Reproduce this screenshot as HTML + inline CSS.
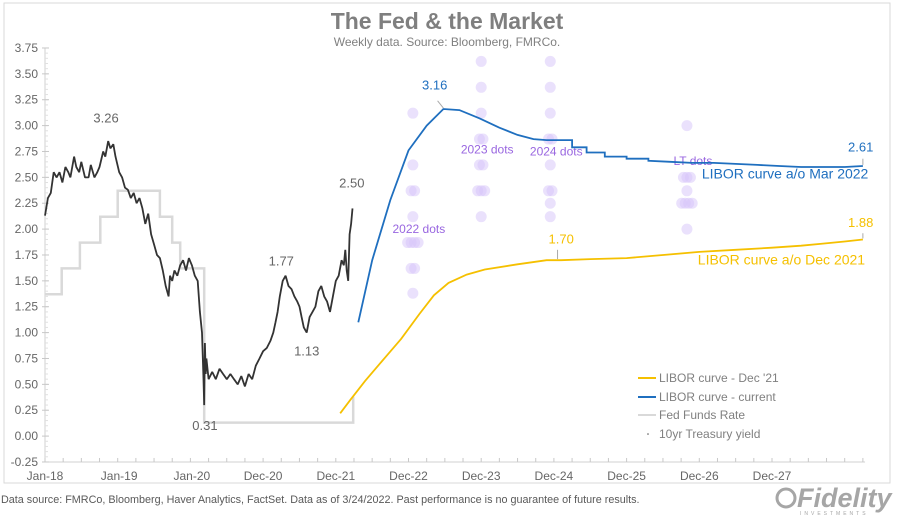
<!DOCTYPE html>
<html><head><meta charset="utf-8">
<style>
body{margin:0;background:#fff;width:900px;height:517px;overflow:hidden;font-family:"Liberation Sans",Arial,sans-serif;}
svg text{font-family:"Liberation Sans",Arial,sans-serif;}
</style></head>
<body>
<svg id="chart" width="900" height="517" viewBox="0 0 900 517" xmlns="http://www.w3.org/2000/svg">
<rect x="4" y="3" width="886" height="480" fill="none" stroke="#d9d9d9" stroke-width="1"/>
<text x="447" y="29" text-anchor="middle" font-size="23" font-weight="bold" fill="#7f7f7f">The Fed &amp; the Market</text>
<text x="447" y="46" text-anchor="middle" font-size="12" fill="#808080">Weekly data.  Source: Bloomberg, FMRCo.</text>
<g id="axes"></g>
<g id="series"></g>
<g id="annots"></g>
<g>
 <line x1="638" y1="378" x2="656" y2="378" stroke="#f5c000" stroke-width="2"/>
 <text x="659" y="382" font-size="12" fill="#808080">LIBOR curve - Dec '21</text>
 <line x1="638" y1="397" x2="656" y2="397" stroke="#1f6fbf" stroke-width="2"/>
 <text x="659" y="401" font-size="12" fill="#808080">LIBOR curve - current</text>
 <line x1="638" y1="415" x2="656" y2="415" stroke="#d9d9d9" stroke-width="2"/>
 <text x="659" y="419" font-size="12" fill="#808080">Fed Funds Rate</text>
 <circle cx="648" cy="434" r="0.8" fill="#555"/>
 <text x="659" y="438" font-size="12" fill="#808080">10yr Treasury yield</text>
</g>
<text x="1" y="503" font-size="10.8" fill="#595959">Data source: FMRCo, Bloomberg, Haver Analytics, FactSet. Data as of 3/24/2022. Past performance is no guarantee of future results.</text>
<g>
 <circle cx="786" cy="498" r="9" fill="none" stroke="#a6a6a6" stroke-width="3"/>
 <text x="797" y="507" font-size="27" font-weight="bold" font-style="italic" fill="#a6a6a6">Fidelity</text>
 <text x="800" y="515" font-size="5" fill="#a6a6a6" letter-spacing="3">INVESTMENTS</text>
</g>
</svg>
<script>
// ---- data ----
const yTicks = [-0.25,0,0.25,0.5,0.75,1,1.25,1.5,1.75,2,2.25,2.5,2.75,3,3.25,3.5,3.75];
const xTickLabels = ["Jan-18","Jan-19","Jan-20","Dec-20","Dec-21","Dec-22","Dec-23","Dec-24","Dec-25","Dec-26","Dec-27"];
const xTickYears = [0,1.02,2.02,3.0,4.0,5.0,6.0,7.0,8.0,9.0,10.0];
const tsyT = [0,0.04,0.08,0.12,0.16,0.2,0.24,0.28,0.32,0.35,0.4,0.43,0.47,0.5,0.55,0.6,0.63,0.68,0.72,0.75,0.8,0.83,0.87,0.9,0.94,0.97,1.02,1.06,1.1,1.14,1.18,1.22,1.26,1.3,1.34,1.38,1.42,1.46,1.5,1.54,1.58,1.62,1.66,1.7,1.72,1.75,1.78,1.82,1.86,1.9,1.94,1.98,2.02,2.06,2.1,2.13,2.16,2.18,2.19,2.2,2.21,2.22,2.25,2.3,2.35,2.4,2.45,2.5,2.55,2.6,2.65,2.7,2.75,2.8,2.85,2.9,2.95,3.0,3.05,3.1,3.14,3.17,3.2,3.23,3.27,3.31,3.35,3.39,3.43,3.47,3.5,3.53,3.56,3.6,3.64,3.68,3.72,3.76,3.8,3.84,3.88,3.92,3.96,4.0,4.04,4.08,4.11,4.13,4.15,4.17,4.19,4.21,4.23];
const tsyV = [2.13,2.3,2.35,2.55,2.5,2.55,2.45,2.6,2.55,2.5,2.7,2.6,2.55,2.65,2.5,2.5,2.62,2.5,2.55,2.6,2.75,2.7,2.85,2.78,2.82,2.7,2.55,2.5,2.4,2.38,2.3,2.35,2.25,2.3,2.2,2.05,2.15,1.95,1.85,1.75,1.72,1.6,1.45,1.35,1.55,1.5,1.6,1.55,1.65,1.7,1.6,1.72,1.65,1.55,1.5,1.2,1.0,0.55,0.3,0.9,0.6,0.75,0.55,0.62,0.55,0.65,0.6,0.55,0.6,0.55,0.5,0.58,0.48,0.6,0.55,0.68,0.75,0.82,0.85,0.92,1.0,1.1,1.2,1.35,1.5,1.55,1.45,1.42,1.35,1.3,1.25,1.15,1.05,1.0,1.15,1.2,1.25,1.4,1.45,1.35,1.3,1.2,1.35,1.5,1.55,1.7,1.65,1.8,1.6,1.5,1.95,2.05,2.2];
const ffT = [0,0.23,0.23,0.48,0.48,0.76,0.76,1.0,1.0,1.58,1.58,1.75,1.75,1.86,1.86,2.19,2.19,4.24,4.24,4.24];
const ffV = [1.37,1.37,1.62,1.62,1.87,1.87,2.12,2.12,2.37,2.37,2.12,2.12,1.87,1.87,1.62,1.62,0.13,0.13,0.38,0.38];
const curT = [4.31,4.5,4.75,5.0,5.25,5.48,5.7,5.98,6.25,6.5,6.72,6.9,7.05,7.25,7.25,7.45,7.45,7.7,7.7,8.0,8.0,8.3,8.3,8.6,8.9,9.2,9.5,9.8,10.1,10.4,10.7,11.0,11.25];
const curV = [1.10,1.70,2.28,2.76,3.00,3.16,3.15,3.07,2.98,2.91,2.87,2.86,2.86,2.86,2.79,2.79,2.74,2.74,2.70,2.70,2.68,2.68,2.66,2.65,2.64,2.64,2.63,2.62,2.61,2.60,2.60,2.60,2.61];
const decT = [4.06,4.2,4.4,4.68,4.9,5.15,5.35,5.55,5.8,6.05,6.5,6.9,7.1,7.5,8.0,8.5,9.0,9.5,10.0,10.4,10.7,11.0,11.25];
const decV = [0.22,0.35,0.53,0.76,0.94,1.18,1.36,1.48,1.56,1.61,1.66,1.70,1.70,1.71,1.72,1.75,1.78,1.80,1.82,1.84,1.86,1.88,1.90];
const dotCols = [5.06,6.0,6.95,8.83];
const dotVals = [[3.12,2.62,2.37,2.12,1.87,1.62,1.38],[3.62,3.37,3.12,2.87,2.62,2.37,2.12],[3.62,3.37,3.12,2.87,2.62,2.37,2.25,2.12],[3.0,2.5,2.37,2.25,2.0]];
const dotCounts = [[1,1,2,1,4,2,1],[1,1,1,2,2,3,1],[1,1,1,2,1,2,1,1],[1,3,1,4,1]];
const dotLabels = ["2022 dots","2023 dots","2024 dots","LT dots"];
const dotLabelVals = [2.0,2.77,2.75,2.66];

// ---- scales ----
const X0=45, PXY=72.7, Y0=436.1, PXV=103.5;
const xs = t => X0 + t*PXY;
const ys = v => Y0 - v*PXV;
const NS="http://www.w3.org/2000/svg";
function mk(tag, parent, attrs){const e=document.createElementNS(NS,tag);for(const k in attrs)e.setAttribute(k,attrs[k]);parent.appendChild(e);return e;}
const axes=document.getElementById('axes'), series=document.getElementById('series'), ann=document.getElementById('annots');

// axes
let yl=mk('line',axes,{x1:X0,y1:ys(-0.25),x2:X0,y2:ys(3.75),stroke:'#d0d0d0'});


let xl=mk('line',axes,{x1:X0,y1:ys(-0.25),x2:xs(11.28),y2:ys(-0.25),stroke:'#d0d0d0'});


for(let v=-0.25; v<=3.76; v+=0.05){mk('line',axes,{x1:X0,y1:ys(v),x2:X0+3,y2:ys(v),stroke:'#e0e0e0'});}
yTicks.forEach(v=>{
  mk('line',axes,{x1:X0-3,y1:ys(v),x2:X0+4,y2:ys(v),stroke:'#c8c8c8'});
  const t=mk('text',axes,{x:38,y:ys(v)+4,'text-anchor':'end','font-size':12,fill:'#666'});
  t.textContent=v.toFixed(2);
  
  
});
for(let t=0;t<=11.28;t+=0.25){mk('line',axes,{x1:xs(t),y1:ys(-0.25),x2:xs(t),y2:ys(-0.25)-4,stroke:'#c8c8c8'});}
xTickLabels.forEach((l,i)=>{
  const t=mk('text',axes,{x:xs(xTickYears[i]),y:480,'text-anchor':'middle','font-size':12,fill:'#666'});
  t.textContent=l;
  
  
});

function path(T,V){return T.map((t,i)=>(i?'L':'M')+xs(t).toFixed(1)+','+ys(V[i]).toFixed(1)).join('');}
// dots
dotCols.forEach((c,ci)=>{
  dotVals[ci].forEach((v,i)=>{
    const n=dotCounts[ci][i];
    for(let k=0;k<n;k++){
      const d=mk('circle',series,{cx:xs(c)+(k-(n-1)/2)*3.5,cy:ys(v),r:5.5,fill:'#d6c3fa','fill-opacity':0.5});
      
      
    }
  });
  const t=mk('text',series,{x:xs(c)+6,y:ys(dotLabelVals[ci])+4,'text-anchor':'middle','font-size':12,fill:'#9966e0'});
  t.textContent=dotLabels[ci];
  
  
});
let p;
p=mk('path',series,{d:path(ffT,ffV),fill:'none',stroke:'#d9d9d9','stroke-width':2.5});


p=mk('path',series,{d:path(tsyT,tsyV),fill:'none',stroke:'#333','stroke-width':1.8,'stroke-linejoin':'bevel'});


p=mk('path',series,{d:path(decT,decV),fill:'none',stroke:'#f5c000','stroke-width':1.8});


p=mk('path',series,{d:path(curT,curV),fill:'none',stroke:'#1f6fbf','stroke-width':1.8});



// annotations
function lab(txt,x,y,col,name,size){const t=mk('text',ann,{x:x,y:y,'text-anchor':'middle','font-size':size||13,fill:col});t.textContent=txt;return t;}
lab('3.26',xs(0.84),ys(3.03),'#666','label-3-26');
lab('2.50',xs(4.22),ys(2.4),'#666','label-2-50');
lab('1.77',xs(3.25),ys(1.65),'#666','label-1-77');
lab('1.13',xs(3.6),ys(0.78),'#666','label-1-13');
lab('0.31',xs(2.2),ys(0.06),'#666','label-0-31');
lab('3.16',xs(5.36),ys(3.35),'#1f6fbf','label-3-16');
lab('1.70',xs(7.1),ys(1.86),'#f5c000','label-1-70');
lab('2.61',xs(11.22),ys(2.75),'#1f6fbf','label-2-61');
lab('1.88',xs(11.22),ys(2.02),'#f5c000','label-1-88');
mk('line',ann,{x1:xs(5.4),y1:ys(3.24),x2:xs(5.48),y2:ys(3.17),stroke:'#aaa'});
mk('line',ann,{x1:xs(7.05),y1:ys(1.8),x2:xs(7.05),y2:ys(1.71),stroke:'#aaa'});
mk('line',ann,{x1:xs(11.25),y1:ys(2.68),x2:xs(11.25),y2:ys(2.62),stroke:'#aaa'});
mk('line',ann,{x1:xs(11.25),y1:ys(1.96),x2:xs(11.25),y2:ys(1.91),stroke:'#aaa'});
lab('LIBOR curve a/o Mar 2022',xs(10.18),ys(2.5)+1,'#1f6fbf','series-label-current',14);
lab('LIBOR curve a/o Dec 2021',xs(10.13),ys(1.67)+1,'#f5c000','series-label-dec21',14);
</script>
</body></html>
